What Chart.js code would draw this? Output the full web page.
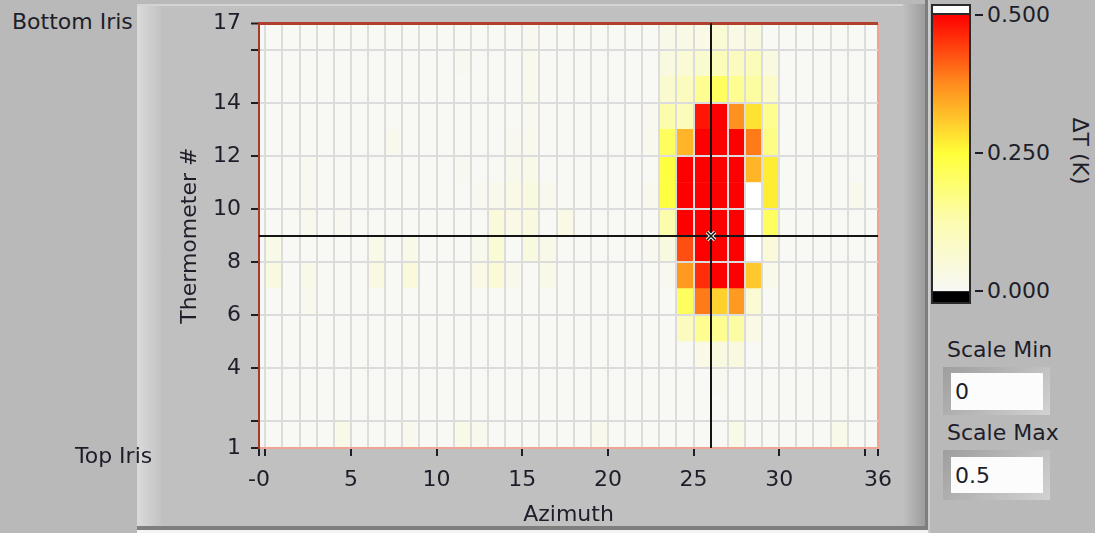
<!DOCTYPE html>
<html>
<head>
<meta charset="utf-8">
<title>Thermometer ΔT map</title>
<script src="https://cdn.jsdelivr.net/npm/chart.js@4.4.1/dist/chart.umd.min.js"></script>
<style>
  html, body { margin: 0; padding: 0; }
  body {
    width: 1095px; height: 533px; position: relative; overflow: hidden;
    background: #b9b9b9;
    font-family: "DejaVu Sans", Verdana, sans-serif; font-size: 22px; color: #1e1e2a;
  }
  .box { position: absolute; }
  .txt { position: absolute; white-space: nowrap; line-height: 26px; }
  #plotWrap { position: absolute; left: 140px; top: 0; width: 785px; height: 533px; }
</style>
</head>
<body>
<!-- panel frame -->
<div class="box" style="left:137px;top:4px;width:788px;height:524px;background:#c0c0c0"></div>
<div class="box" style="left:137px;top:4px;width:24px;height:524px;background:linear-gradient(to right,#dadada,#c3c3c3)"></div>
<div class="box" style="left:137px;top:4px;width:788px;height:2px;background:#d4d4d4"></div>
<div class="box" style="left:903px;top:4px;width:22px;height:524px;background:linear-gradient(to right,#c0c0c0,#9c9c9c)"></div>
<div class="box" style="left:137px;top:526px;width:791px;height:4px;background:#7e7e7e"></div>
<div class="box" style="left:137px;top:530px;width:791px;height:3px;background:#f4f4f4"></div>
<div class="box" style="left:925px;top:0;width:3px;height:530px;background:#7e7e7e"></div>
<div class="box" style="left:928px;top:0;width:2px;height:533px;background:#cccccc"></div>

<div id="plotWrap"><canvas id="map"></canvas></div>

<div class="txt" style="left:12px;top:9px">Bottom Iris</div>
<div class="txt" style="left:75px;top:443px">Top Iris</div>

<!-- colour ramp -->
<div class="box" style="left:931px;top:4px;width:40px;height:300px;background:#2a2a2a"></div>
<div class="box" style="left:933px;top:6px;width:36px;height:7px;background:#ffffff"></div>
<div class="box" id="ramp" style="left:933px;top:15px;width:36px;height:276px"></div>
<div class="box" style="left:933px;top:292px;width:36px;height:10px;background:#000000"></div>
<div id="rampTicks"></div>
<div class="txt" style="left:1030px;top:138px;width:100px;text-align:center;transform:rotate(90deg)">ΔT (K)</div>

<!-- scale controls -->
<div class="txt" style="left:947px;top:337px">Scale Min</div>
<div class="box" style="left:943px;top:367px;width:107px;height:48px;background:linear-gradient(135deg,#9e9e9e,#d2d2d2)"></div>
<div class="box" style="left:951px;top:373px;width:92px;height:37px;background:#fcfcfc"></div>
<div class="txt" id="minBox" style="left:955px;top:379px"></div>
<div class="txt" style="left:947px;top:420px">Scale Max</div>
<div class="box" style="left:943px;top:450px;width:107px;height:50px;background:linear-gradient(135deg,#9e9e9e,#d2d2d2)"></div>
<div class="box" style="left:951px;top:457px;width:92px;height:36px;background:#fcfcfc"></div>
<div class="txt" id="maxBox" style="left:955px;top:463px"></div>

<script>
// Columns (azimuth) and rows (thermometer #)
const azimuths = [0, 1, 2, 3, 4, 5, 6, 7, 8, 9, 10, 11, 12, 13, 14, 15, 16, 17,
                  18, 19, 20, 21, 22, 23, 24, 25, 26, 27, 28, 29, 30, 31, 32, 33, 34, 35];
const thermometers = [1, 2, 3, 4, 5, 6, 7, 8, 9, 10, 11, 12, 13, 14, 15, 16];

// ΔT (K) per thermometer, one value per azimuth column (values above scaleMax show white)
const t1  = [0,0,0,0,0.025,0, 0,0,0.015,0,0,0.025, 0.015,0,0,0,0,0, 0,0.015,0,0,0,0, 0,0,0,0.025,0,0, 0,0,0,0.02,0,0];
const t2  = [0,0,0,0,0,0, 0,0,0,0,0,0, 0,0,0,0,0,0, 0,0,0,0,0,0, 0,0,0,0,0,0, 0,0,0,0,0,0];
const t3  = [0,0,0,0,0,0, 0,0,0,0,0,0, 0,0,0,0,0,0, 0,0,0,0,0,0, 0,0,0.01,0,0,0, 0,0,0,0,0,0];
const t4  = [0,0,0,0,0,0, 0,0,0,0,0,0, 0,0,0,0,0,0, 0,0,0,0,0,0, 0,0.03,0.04,0.04,0,0, 0,0,0,0,0,0];
const t5  = [0,0,0,0,0,0, 0,0,0,0,0,0, 0,0,0,0,0,0, 0,0,0,0,0,0, 0.10,0.16,0.16,0.14,0.03,0, 0,0,0,0,0,0];
const t6  = [0,0,0.015,0,0,0, 0,0,0,0,0,0, 0,0,0,0,0,0, 0,0,0,0,0,0, 0.21,0.39,0.30,0.36,0.06,0, 0,0,0,0,0,0];
const t7  = [0.04,0,0.025,0,0,0, 0.035,0,0.05,0,0,0, 0.03,0.06,0.015,0,0.025,0, 0,0,0,0,0,0.01, 0.36,0.46,0.50,0.50,0.31,0.02, 0,0,0,0,0,0];
const t8  = [0.025,0,0,0,0,0, 0.025,0,0.025,0,0,0, 0.015,0.06,0,0.04,0.02,0, 0,0,0,0,0.01,0.04, 0.43,0.50,0.50,0.50,0.62,0.05, 0,0,0,0,0,0];
const t9  = [0,0,0.015,0,0.01,0, 0,0,0,0,0,0, 0,0.05,0.03,0.04,0,0.03, 0,0,0,0,0,0.13, 0.50,0.50,0.50,0.50,0.62,0.21, 0,0,0,0,0,0];
const t10 = [0,0,0.01,0,0,0, 0,0,0,0,0,0, 0.01,0.015,0.03,0.04,0.015,0, 0,0,0,0,0.015,0.24, 0.50,0.50,0.50,0.50,0.62,0.27, 0,0,0,0,0.015,0];
const t11 = [0,0,0.01,0,0,0, 0,0,0,0,0,0.01, 0,0,0.015,0.025,0,0, 0,0,0,0,0,0.24, 0.50,0.50,0.50,0.50,0.33,0.27, 0,0,0,0,0,0];
const t12 = [0,0,0,0,0,0, 0,0.015,0,0,0,0, 0,0,0.01,0.015,0,0, 0,0,0,0,0.015,0.21, 0.33,0.50,0.50,0.50,0.39,0.17, 0,0,0,0,0,0];
const t13 = [0,0,0,0,0,0, 0,0,0,0,0,0, 0,0,0,0.01,0,0, 0,0,0,0,0.01,0.13, 0.11,0.48,0.50,0.37,0.28,0.16, 0,0,0,0,0,0];
const t14 = [0,0,0,0,0,0, 0,0,0,0,0,0, 0,0,0,0.015,0,0, 0,0,0,0,0,0.07, 0.10,0.16,0.21,0.16,0.14,0.08, 0,0,0,0,0,0];
const t15 = [0,0,0,0,0,0, 0,0,0,0,0,0.01, 0,0,0,0.015,0,0, 0,0,0,0,0,0.04, 0.06,0.07,0.11,0.10,0.11,0.04, 0,0,0,0,0,0];
const t16 = [0,0,0,0,0,0, 0,0,0,0,0,0, 0,0,0,0.01,0,0, 0,0,0,0,0,0.02, 0.03,0.03,0.06,0.03,0.04,0, 0,0,0,0,0,0];
const deltaT = [t1, t2, t3, t4, t5, t6, t7, t8, t9, t10, t11, t12, t13, t14, t15, t16];

// Axis ranges and tick labels
const azimuthRange = [-0.37, 35.77];
const azimuthTickLabels = [5, 10, 15, 20, 25, 30];
const azimuthMajorTicks = [0, 5, 10, 15, 20, 25, 30, 35];
const azimuthEdgeLabels = ['-0', '36'];
const thermometerRange = [1, 17];
const thermometerTicks = [1, 2, 4, 6, 8, 10, 12, 14, 16, 17];
const thermometerTickLabels = [1, 4, 6, 8, 10, 12, 14, 17];

// Colour scale
const scaleMin = 0;
const scaleMax = 0.5;
const rampTicks = [0.5, 0.25, 0];
const rampTickLabels = ['0.500', '0.250', '0.000'];

// Cursor
const cursorAzimuth = 26;
const cursorThermometer = 9;

const ink = '#1e1e2a';
const gridGray = '#dcdcdc';
const clear = 'rgba(0,0,0,0)';
const font = { family: "'DejaVu Sans', Verdana, sans-serif", size: 22 };
const rampStops = [
    [0.0, [248, 248, 245]],
    [0.25, [252, 252, 178]],
    [0.5, [255, 255, 56]],
    [0.75, [255, 140, 30]],
    [1.0, [255, 0, 0]]
];

// ΔT -> colour, white above the range, black below it
function colorFor(dT) {
    if (dT > scaleMax + 1e-9) return '#ffffff';
    if (dT < scaleMin - 1e-9) return '#000000';
    const f = (dT - scaleMin) / (scaleMax - scaleMin);
    for (let i = 1; i < rampStops.length; i++) {
        if (f <= rampStops[i][0] + 1e-9) {
            const [f0, c0] = rampStops[i - 1];
            const [f1, c1] = rampStops[i];
            const k = (f - f0) / (f1 - f0);
            return 'rgb(' + c0.map((c, j) => Math.round(c + (c1[j] - c) * k)).join(',') + ')';
        }
    }
    return 'rgb(255,0,0)';
}

// Colour ramp legend
document.getElementById('ramp').style.background =
    'linear-gradient(to top,' + rampStops.map(s => 'rgb(' + s[1].join(',') + ') ' + (s[0] * 100) + '%').join(',') + ')';
const rampHolder = document.getElementById('rampTicks');
rampTicks.forEach((v, i) => {
    const y = 15 + (1 - (v - scaleMin) / (scaleMax - scaleMin)) * 276;
    const tick = document.createElement('div');
    tick.className = 'box';
    tick.style.cssText = `left:975px;top:${Math.round(y) - 1}px;width:8px;height:2px;background:${ink}`;
    rampHolder.appendChild(tick);
    const lab = document.createElement('div');
    lab.className = 'txt';
    lab.style.cssText = `left:987px;top:${Math.round(y) - 13}px`;
    lab.textContent = rampTickLabels[i];
    rampHolder.appendChild(lab);
});
document.getElementById('minBox').textContent = String(scaleMin);
document.getElementById('maxBox').textContent = String(scaleMax);

// One floating-bar row per thermometer
const datasets = deltaT.map((row, i) => ({
    label: 'Thermometer ' + thermometers[i],
    data: row.map((v, j) => ({ x: [azimuths[j], azimuths[j] + 1], y: thermometers[i] + 0.5 })),
    backgroundColor: row.map(colorFor),
    borderWidth: 0,
    grouped: false,
    barPercentage: 1,
    categoryPercentage: 1
}));

const tickValue = ctx => (ctx.tick ? ctx.tick.value : null);

const frameAndCursor = {
    id: 'frameAndCursor',
    beforeDatasetsDraw(chart) {
        const { ctx, chartArea: a } = chart;
        ctx.save();
        ctx.fillStyle = colorFor(0);
        ctx.fillRect(a.left, a.top, a.right - a.left, a.bottom - a.top);
        ctx.restore();
    },
    afterDraw(chart) {
        const { ctx, chartArea: a, scales } = chart;
        const cx = Math.round(scales.x.getPixelForValue(cursorAzimuth));
        const cy = Math.round(scales.y.getPixelForValue(cursorThermometer));
        ctx.save();
        ctx.strokeStyle = '#151515';
        ctx.lineWidth = 2;
        ctx.beginPath();
        ctx.moveTo(cx, a.top);
        ctx.lineTo(cx, a.bottom);
        ctx.moveTo(a.left, cy);
        ctx.lineTo(a.right, cy);
        ctx.stroke();
        const r = 4;
        [[3.5, '#ffffff'], [1.5, '#111111']].forEach(([w, c]) => {
            ctx.lineWidth = w;
            ctx.strokeStyle = c;
            ctx.beginPath();
            ctx.moveTo(cx - r, cy - r); ctx.lineTo(cx + r, cy + r);
            ctx.moveTo(cx - r, cy + r); ctx.lineTo(cx + r, cy - r);
            ctx.stroke();
        });
        ctx.restore();
    }
};

new Chart(document.getElementById('map'), {
    type: 'bar',
    data: { datasets: datasets },
    options: {
        indexAxis: 'y',
        responsive: true,
        maintainAspectRatio: false,
        animation: false,
        layout: { padding: { left: 0, top: 23, right: 47, bottom: 0 } },
        plugins: { legend: { display: false }, tooltip: { enabled: false } },
        scales: {
            x: {
                type: 'linear',
                offset: false,
                min: azimuthRange[0],
                max: azimuthRange[1],
                afterBuildTicks: s => {
                    s.ticks = [azimuthRange[0], ...azimuths, azimuthRange[1]].map(v => ({ value: v }));
                },
                afterFit: s => { s.height = 85; },
                ticks: {
                    autoSkip: false, maxRotation: 0, minRotation: 0, padding: 11,
                    color: ink, font: font,
                    callback: v => v === azimuthRange[0] ? azimuthEdgeLabels[0]
                        : v === azimuthRange[1] ? azimuthEdgeLabels[1]
                        : (azimuthTickLabels.includes(v) ? String(v) : '')
                },
                grid: {
                    z: 1,
                    offset: false,
                    color: ctx => tickValue(ctx) === azimuthRange[1] ? '#f2a494'
                        : (tickValue(ctx) === azimuthRange[0] || tickValue(ctx) === null) ? clear : gridGray,
                    lineWidth: 2,
                    tickColor: ctx => {
                        const v = tickValue(ctx);
                        return (v === azimuthRange[0] || v === azimuthRange[1] || azimuthMajorTicks.includes(v)) ? ink : clear;
                    },
                    tickLength: 8,
                    tickWidth: 2
                },
                border: { color: '#f2a494', width: 2, z: 1 },
                title: { display: true, text: 'Azimuth', color: ink, font: font, padding: { top: 0, bottom: 5 } }
            },
            y: {
                type: 'linear',
                offset: false,
                min: thermometerRange[0],
                max: thermometerRange[1],
                afterBuildTicks: s => { s.ticks = thermometerTicks.map(v => ({ value: v })); },
                afterFit: s => { s.width = 119; },
                ticks: {
                    autoSkip: false, padding: 10, color: ink, font: font,
                    callback: v => thermometerTickLabels.includes(v) ? String(v) : ''
                },
                grid: {
                    z: 1,
                    offset: false,
                    color: ctx => tickValue(ctx) === thermometerRange[1] ? '#b0402c'
                        : (tickValue(ctx) === thermometerRange[0] || tickValue(ctx) === null) ? clear : gridGray,
                    lineWidth: ctx => tickValue(ctx) === thermometerRange[1] ? 3 : 2,
                    tickColor: ink,
                    tickLength: 8,
                    tickWidth: 2
                },
                border: { color: '#a83a2a', width: 2, z: 1 },
                title: { display: true, text: 'Thermometer #', color: ink, font: font, padding: { top: 37, bottom: 0 } }
            }
        }
    },
    plugins: [frameAndCursor]
});
</script>
</body>
</html>
